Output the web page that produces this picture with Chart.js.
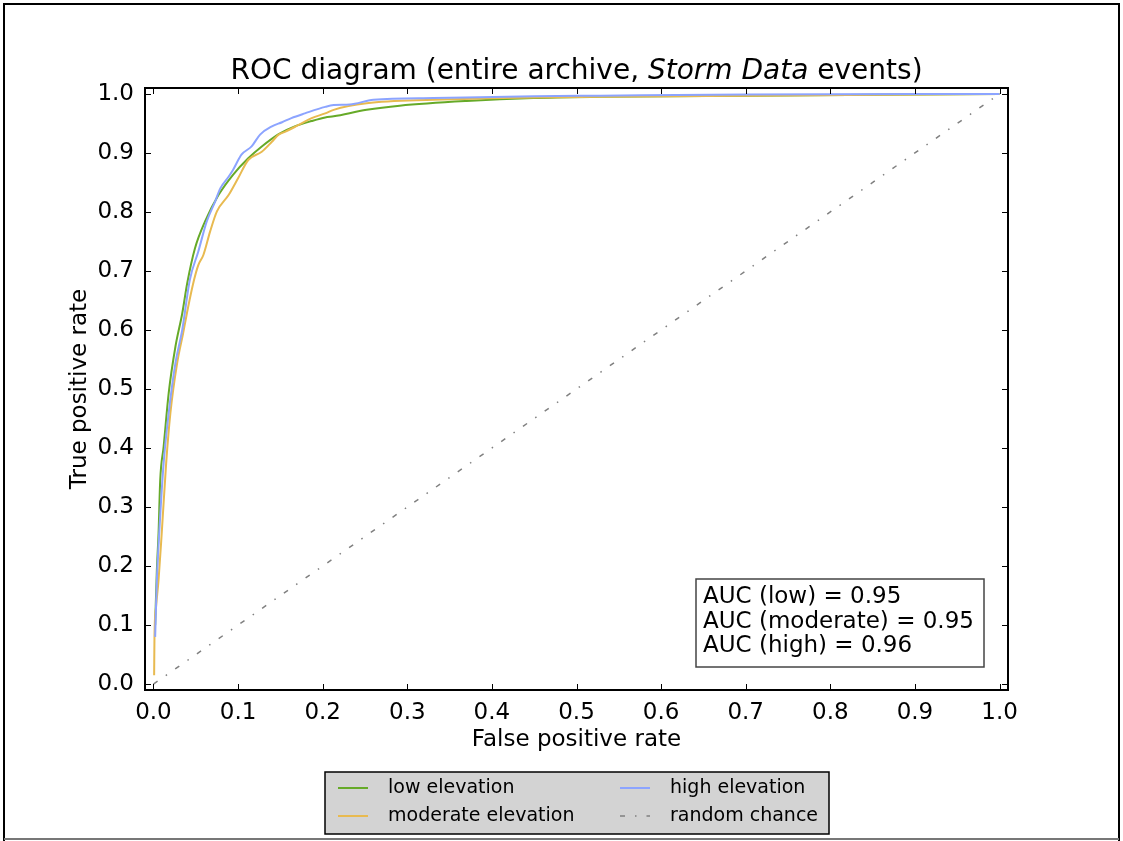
<!DOCTYPE html>
<html>
<head>
<meta charset="utf-8">
<title>ROC diagram</title>
<script src="https://cdn.jsdelivr.net/npm/chart.js@4.4.1/dist/chart.umd.min.js"></script>
<style>
  body { margin: 0; background: #fff; }
  canvas { display: block; }
</style>
</head>
<body>
<canvas id="rocChart" width="1123" height="841"></canvas>
<script>
const FONT = "'DejaVu Sans', 'Liberation Sans', sans-serif";

const xTicks = [0.0, 0.1, 0.2, 0.3, 0.4, 0.5, 0.6, 0.7, 0.8, 0.9, 1.0];
const yTicks = [0.0, 0.1, 0.2, 0.3, 0.4, 0.5, 0.6, 0.7, 0.8, 0.9, 1.0];

const lowFpr = [0.002, 0.004, 0.006, 0.008, 0.012, 0.018, 0.026, 0.034, 0.040, 0.049, 0.061, 0.077, 0.094, 0.112, 0.128, 0.148, 0.167, 0.187, 0.203, 0.213, 0.252, 0.291, 0.370, 0.449, 0.528, 0.700, 1.0];
const lowTpr = [0.100, 0.193, 0.255, 0.346, 0.402, 0.493, 0.572, 0.628, 0.680, 0.738, 0.784, 0.829, 0.863, 0.891, 0.911, 0.932, 0.945, 0.954, 0.960, 0.962, 0.973, 0.980, 0.988, 0.993, 0.995, 0.997, 1.0];

const modFpr = [0.0008, 0.0012, 0.003, 0.006, 0.010, 0.015, 0.020, 0.028, 0.035, 0.041, 0.048, 0.053, 0.059, 0.067, 0.075, 0.089, 0.100, 0.112, 0.128, 0.140, 0.148, 0.156, 0.171, 0.187, 0.203, 0.213, 0.252, 0.331, 0.449, 0.528, 0.700, 1.0];
const modTpr = [0.015, 0.080, 0.130, 0.176, 0.261, 0.374, 0.459, 0.544, 0.594, 0.639, 0.685, 0.710, 0.727, 0.767, 0.801, 0.829, 0.857, 0.888, 0.902, 0.919, 0.931, 0.936, 0.947, 0.959, 0.967, 0.973, 0.984, 0.990, 0.994, 0.995, 0.997, 1.0];

const highFpr = [0.002, 0.004, 0.007, 0.012, 0.018, 0.026, 0.034, 0.043, 0.053, 0.063, 0.073, 0.079, 0.089, 0.094, 0.104, 0.116, 0.126, 0.140, 0.152, 0.163, 0.179, 0.203, 0.213, 0.232, 0.260, 0.331, 0.450, 0.528, 0.700, 1.0];
const highTpr = [0.080, 0.176, 0.261, 0.374, 0.459, 0.544, 0.600, 0.685, 0.733, 0.784, 0.818, 0.840, 0.860, 0.871, 0.897, 0.911, 0.931, 0.945, 0.952, 0.959, 0.967, 0.978, 0.981, 0.982, 0.990, 0.993, 0.996, 0.997, 0.999, 1.0];

const chanceFpr = [0.0, 1.0];
const chanceTpr = [0.0, 1.0];

const aucLines = ['AUC (low) = 0.95', 'AUC (moderate) = 0.95', 'AUC (high) = 0.96'];

function toPoints(xs, ys) {
	return xs.map((x, i) => ({x: x, y: ys[i]}));
}

// matplotlib style: inward ticks on all four sides, black frame
const frameTicks = {
	id: 'frameTicks',
	afterDatasetsDraw(chart) {
		const {ctx, chartArea: a, scales: {x, y}} = chart;
		ctx.save();
		ctx.strokeStyle = '#000';
		ctx.lineWidth = 1;
		ctx.beginPath();
		for (const v of xTicks) {
			const p = Math.round(x.getPixelForValue(v)) + 0.5;
			ctx.moveTo(p, a.bottom); ctx.lineTo(p, a.bottom - 6);
			ctx.moveTo(p, a.top); ctx.lineTo(p, a.top + 6);
		}
		for (const v of yTicks) {
			const p = Math.round(y.getPixelForValue(v)) + 0.5;
			ctx.moveTo(a.left, p); ctx.lineTo(a.left + 6, p);
			ctx.moveTo(a.right, p); ctx.lineTo(a.right - 6, p);
		}
		ctx.stroke();
		ctx.lineWidth = 2;
		ctx.strokeRect(a.left, a.top, a.right - a.left, a.bottom - a.top);
		ctx.restore();
	}
};

const extras = {
	id: 'extras',
	afterDraw(chart) {
		const ctx = chart.ctx;
		const a = chart.chartArea;
		ctx.save();

		// page frame
		ctx.strokeStyle = '#000';
		ctx.lineWidth = 2;
		ctx.beginPath();
		ctx.moveTo(4, 841); ctx.lineTo(4, 4); ctx.lineTo(1119, 4); ctx.lineTo(1119, 841);
		ctx.stroke();
		ctx.strokeStyle = '#777';
		ctx.beginPath();
		ctx.moveTo(4, 839); ctx.lineTo(1119, 839);
		ctx.stroke();

		// title with italic part
		const parts = [
			{t: 'ROC diagram (entire archive, ', f: '28px ' + FONT},
			{t: 'Storm Data', f: 'italic 28px ' + FONT},
			{t: ' events)', f: '28px ' + FONT}
		];
		let total = 0;
		for (const p of parts) { ctx.font = p.f; p.w = ctx.measureText(p.t).width; total += p.w; }
		let tx = (a.left + a.right) / 2 - total / 2;
		ctx.fillStyle = '#000';
		ctx.textBaseline = 'alphabetic';
		ctx.textAlign = 'left';
		for (const p of parts) { ctx.font = p.f; ctx.fillText(p.t, tx, 79); tx += p.w; }

		// AUC box
		ctx.fillStyle = '#fff';
		ctx.fillRect(696, 579, 288, 88);
		ctx.strokeStyle = '#444';
		ctx.lineWidth = 1.5;
		ctx.strokeRect(696, 579, 288, 88);
		ctx.fillStyle = '#000';
		ctx.font = '23px ' + FONT;
		aucLines.forEach((s, i) => ctx.fillText(s, 703, 603 + i * 24.5));

		// legend below the axes, two columns
		ctx.fillStyle = '#d3d3d3';
		ctx.fillRect(325, 772, 504, 62);
		ctx.strokeStyle = '#000';
		ctx.lineWidth = 1.5;
		ctx.strokeRect(325, 772, 504, 62);
		ctx.font = '19px ' + FONT;
		ctx.textBaseline = 'middle';
		chart.data.datasets.forEach((ds, i) => {
			const col = Math.floor(i / 2), row = i % 2;
			const lx = col == 0 ? 338 : 620;
			const ly = row == 0 ? 788 : 816;
			ctx.strokeStyle = ds.borderColor;
			ctx.lineWidth = ds.borderWidth;
			ctx.setLineDash(ds.borderDash || []);
			ctx.beginPath();
			ctx.moveTo(lx, ly); ctx.lineTo(lx + 30, ly);
			ctx.stroke();
			ctx.setLineDash([]);
			ctx.fillStyle = '#000';
			ctx.fillText(ds.label, lx + 50, ly);
		});
		ctx.restore();
	}
};

const rocChart = new Chart(document.getElementById('rocChart'), {
	type: 'line',
	data: {
		datasets: [{
			label: 'low elevation',
			data: toPoints(lowFpr, lowTpr),
			borderColor: '#66aa28',
			borderWidth: 2,
			cubicInterpolationMode: 'monotone',
			order: 4
		}, {
			label: 'moderate elevation',
			data: toPoints(modFpr, modTpr),
			borderColor: '#e8ba50',
			borderWidth: 2,
			cubicInterpolationMode: 'monotone',
			order: 3
		}, {
			label: 'high elevation',
			data: toPoints(highFpr, highTpr),
			borderColor: '#8ca4ff',
			borderWidth: 2,
			cubicInterpolationMode: 'monotone',
			order: 2
		}, {
			label: 'random chance',
			data: toPoints(chanceFpr, chanceTpr),
			borderColor: '#808080',
			borderWidth: 1.5,
			borderDash: [5, 10, 1.5, 10],
			order: 1
		}]
	},
	options: {
		responsive: false,
		animation: false,
		elements: { point: { radius: 0 } },
		layout: { padding: { left: 0, right: 115, top: 88, bottom: 81 } },
		plugins: {
			legend: { display: false },
			tooltip: { enabled: false },
			title: { display: false }
		},
		scales: {
			x: {
				type: 'linear',
				min: -0.01,
				max: 1.01,
				afterBuildTicks: s => { s.ticks = xTicks.map(v => ({value: v})); },
				afterFit: s => { s.height = 70; },
				grid: { display: false },
				border: { display: false },
				ticks: {
					color: '#000',
					font: { family: FONT, size: 23 },
					padding: 1,
					maxRotation: 0,
					autoSkip: false,
					callback: v => v.toFixed(1)
				},
				title: {
					display: true,
					text: 'False positive rate',
					color: '#000',
					font: { family: FONT, size: 23 },
					padding: { top: 0, bottom: 6 }
				}
			},
			y: {
				type: 'linear',
				min: -0.01,
				max: 1.01,
				afterBuildTicks: s => { s.ticks = yTicks.map(v => ({value: v})); },
				afterFit: s => { s.width = 145; },
				grid: { display: false },
				border: { display: false },
				ticks: {
					color: '#000',
					font: { family: FONT, size: 23 },
					padding: 3,
					autoSkip: false,
					callback: v => v.toFixed(1)
				},
				title: {
					display: true,
					text: 'True positive rate',
					color: '#000',
					font: { family: FONT, size: 23 },
					padding: { top: 66, bottom: 0 }
				}
			}
		}
	},
	plugins: [frameTicks, extras]
});
</script>
</body>
</html>
